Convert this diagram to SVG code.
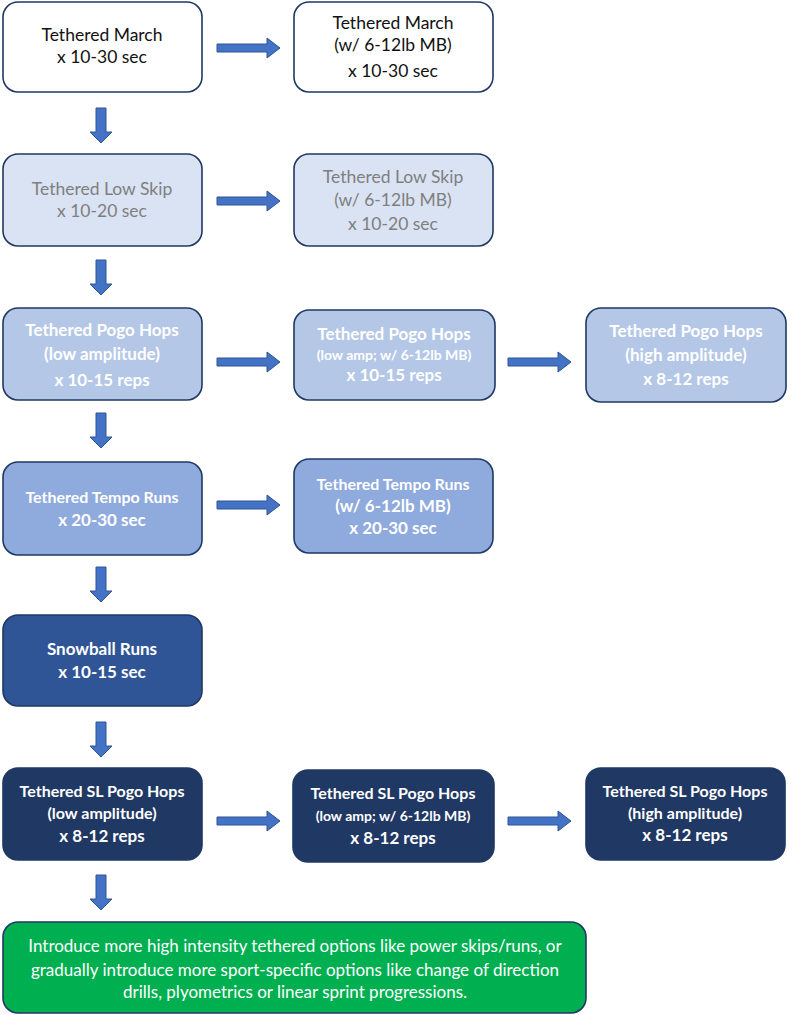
<svg xmlns="http://www.w3.org/2000/svg" width="800" height="1015" viewBox="0 0 800 1015">
<style>
.box{stroke:#1f3864;stroke-width:1.6}
.t{font-family:Lato,"Open Sans","Liberation Sans",sans-serif;font-size:17.5px;text-anchor:middle}
.b{font-weight:bold;font-size:17px}
.b16{font-size:16px}
.w{fill:#ffffff}
.k{fill:#111111}
.g{fill:#7f7f7f}
.sm{font-size:14px}
.gr{font-size:17px}
.arr{fill:#4472c4;stroke:#2f5597;stroke-width:1}
</style>
<defs>
<path id="ah" d="M0,-4 L50,-4 L50,-10 L63,0 L50,10 L50,4 L0,4 Z"/>
<path id="av" d="M-5,0 L5,0 L5,24 L11,24 L0,35 L-11,24 L-5,24 Z"/>
</defs>
<rect width="800" height="1015" fill="#ffffff"/>

<g id="connectors" class="arr">
<use href="#ah" x="217" y="48"/>
<use href="#ah" x="217" y="201"/>
<use href="#ah" x="217" y="362"/>
<use href="#ah" x="508" y="362"/>
<use href="#ah" x="217" y="505"/>
<use href="#ah" x="217" y="821"/>
<use href="#ah" x="508" y="821"/>
<use href="#av" x="101" y="108"/>
<use href="#av" x="101" y="260"/>
<use href="#av" x="101" y="413"/>
<use href="#av" x="101" y="567"/>
<use href="#av" x="101" y="722"/>
<use href="#av" x="101" y="875"/>
</g>

<g id="march">
<rect class="box" x="3" y="2" width="199" height="90" rx="15" fill="#ffffff"/>
<text class="t k" x="102" y="41">Tethered March</text>
<text class="t k" x="102" y="63">x 10-30 sec</text>
</g>
<g id="march-mb">
<rect class="box" x="294" y="2" width="199" height="90" rx="15" fill="#ffffff"/>
<text class="t k" x="393" y="29">Tethered March</text>
<text class="t k" x="393" y="51">(w/ 6-12lb MB)</text>
<text class="t k" x="393" y="77">x 10-30 sec</text>
</g>

<g id="lowskip">
<rect class="box" x="3" y="154" width="199" height="92" rx="15" fill="#dae3f3"/>
<text class="t g" x="102" y="195">Tethered Low Skip</text>
<text class="t g" x="102" y="217">x 10-20 sec</text>
</g>
<g id="lowskip-mb">
<rect class="box" x="294" y="154" width="199" height="92" rx="15" fill="#dae3f3"/>
<text class="t g" x="393" y="183">Tethered Low Skip</text>
<text class="t g" x="393" y="206">(w/ 6-12lb MB)</text>
<text class="t g" x="393" y="230">x 10-20 sec</text>
</g>

<g id="pogo-low">
<rect class="box" x="3" y="308" width="199" height="92" rx="15" fill="#b4c7e7"/>
<text class="t w b" x="102" y="336">Tethered Pogo Hops</text>
<text class="t w b" x="102" y="360">(low amplitude)</text>
<text class="t w b" x="102" y="386">x 10-15 reps</text>
</g>
<g id="pogo-mb">
<rect class="box" x="294" y="310" width="201" height="90" rx="15" fill="#b4c7e7"/>
<text class="t w b" x="394" y="340">Tethered Pogo Hops</text>
<text class="t w b sm" x="394" y="360">(low amp; w/ 6-12lb MB)</text>
<text class="t w b" x="394" y="381">x 10-15 reps</text>
</g>
<g id="pogo-high">
<rect class="box" x="586" y="308" width="200" height="94" rx="15" fill="#b4c7e7"/>
<text class="t w b" x="686" y="337">Tethered Pogo Hops</text>
<text class="t w b" x="686" y="361">(high amplitude)</text>
<text class="t w b" x="686" y="385">x 8-12 reps</text>
</g>

<g id="tempo">
<rect class="box" x="3" y="462" width="199" height="93" rx="15" fill="#8faadc"/>
<text class="t w b b16" x="102" y="503">Tethered Tempo Runs</text>
<text class="t w b" x="102" y="526">x 20-30 sec</text>
</g>
<g id="tempo-mb">
<rect class="box" x="294" y="459" width="199" height="94" rx="15" fill="#8faadc"/>
<text class="t w b b16" x="393" y="490">Tethered Tempo Runs</text>
<text class="t w b" x="393" y="512">(w/ 6-12lb MB)</text>
<text class="t w b" x="393" y="534">x 20-30 sec</text>
</g>

<g id="snowball">
<rect class="box" x="3" y="615" width="199" height="91" rx="15" fill="#2f5597"/>
<text class="t w b" x="102" y="655">Snowball Runs</text>
<text class="t w b" x="102" y="678">x 10-15 sec</text>
</g>

<g id="sl-low">
<rect class="box" x="3" y="768" width="199" height="92" rx="15" fill="#203864"/>
<text class="t w b b16" x="102" y="797">Tethered SL Pogo Hops</text>
<text class="t w b b16" x="102" y="819">(low amplitude)</text>
<text class="t w b" x="102" y="842">x 8-12 reps</text>
</g>
<g id="sl-mb">
<rect class="box" x="293" y="770" width="201" height="92" rx="15" fill="#203864"/>
<text class="t w b b16" x="393" y="799">Tethered SL Pogo Hops</text>
<text class="t w b sm" x="393" y="821">(low amp; w/ 6-12lb MB)</text>
<text class="t w b" x="393" y="844">x 8-12 reps</text>
</g>
<g id="sl-high">
<rect class="box" x="586" y="768" width="199" height="92" rx="15" fill="#203864"/>
<text class="t w b b16" x="685" y="797">Tethered SL Pogo Hops</text>
<text class="t w b b16" x="685" y="819">(high amplitude)</text>
<text class="t w b" x="685" y="841">x 8-12 reps</text>
</g>

<g id="next">
<rect class="box" x="3" y="922" width="583" height="91" rx="15" fill="#00b050"/>
<text class="t w gr" x="295" y="952">Introduce more high intensity tethered options like power skips/runs, or</text>
<text class="t w gr" x="295" y="976">gradually introduce more sport-specific options like change of direction</text>
<text class="t w gr" x="295" y="998">drills, plyometrics or linear sprint progressions.</text>
</g>
</svg>
